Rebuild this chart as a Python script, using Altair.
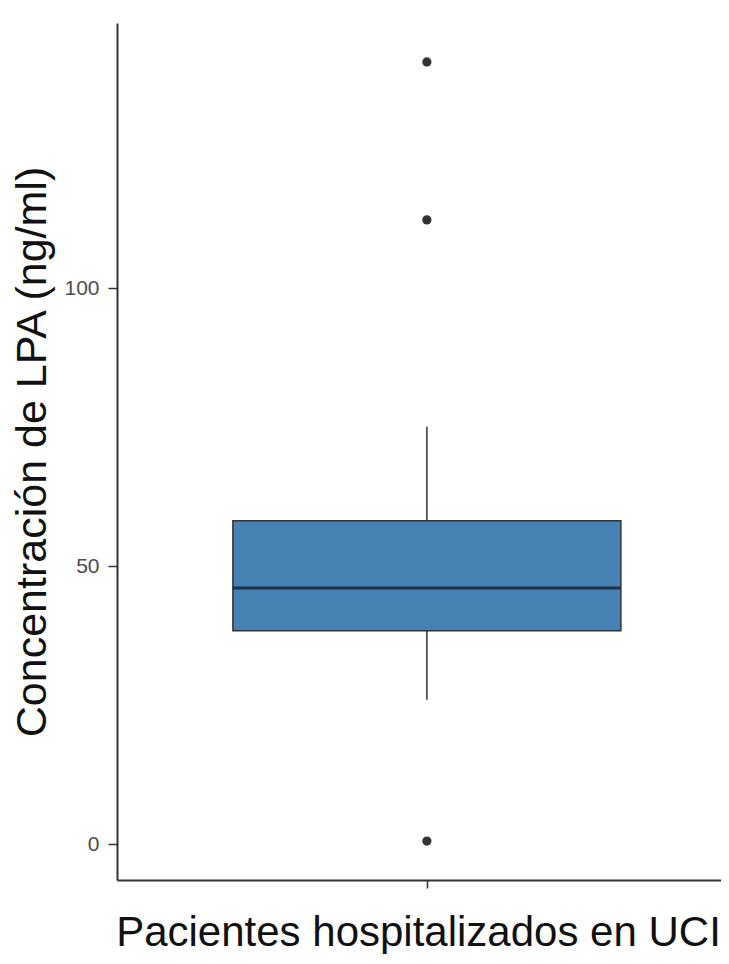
import altair as alt
import pandas as pd

# Summary values (ng/ml)
group_pos = [1]
lower_whisker = [26.0]
q1 = [38.4]
median = [46.1]
q3 = [58.2]
upper_whisker = [75.1]
outliers = [0.6, 112.3, 140.7]

box_df = pd.DataFrame({
    "pos": group_pos,
    "lo": lower_whisker,
    "q1": q1,
    "med": median,
    "q3": q3,
    "hi": upper_whisker,
})
out_df = pd.DataFrame({"pos": group_pos * len(outliers), "value": outliers})

FONT = "Liberation Sans"
W, H = 604, 857
BOXW = 388

xscale = alt.Scale(domain=[0.4, 1.569], nice=False, zero=False)
yscale = alt.Scale(domain=[-6.4, 147.7], nice=False, zero=False)

xaxis = alt.Axis(
    title="Pacientes hospitalizados en UCI",
    values=[1], labels=False, grid=False,
    tickSize=8, tickWidth=1.5, tickColor="#333333",
    domainColor="#333333", domainWidth=2,
    titleFont=FONT, titleFontSize=42, titleFontWeight="normal",
    titleColor="#111111", titleBaseline="alphabetic", titleY=65, titleX=301,
)
yaxis = alt.Axis(
    title="Concentración de LPA (ng/ml)",
    values=[0, 50, 100], grid=False,
    tickSize=9, tickWidth=1.5, tickColor="#333333",
    domainColor="#333333", domainWidth=2,
    labelFont=FONT, labelFontSize=21, labelColor="#4D4D4D", labelPadding=9,
    labelLimit=200,
    titleFont=FONT, titleFontSize=43, titleFontWeight="normal",
    titleColor="#111111", titleBaseline="alphabetic", titleX=-72, titleY=H / 2,
)

X = lambda f: alt.X(f, scale=xscale, axis=xaxis)
Y = lambda f: alt.Y(f, scale=yscale, axis=yaxis)

base = alt.Chart(box_df)

whisker = base.mark_rule(color="#333333", strokeWidth=1.5).encode(
    x=X("pos:Q"), y=Y("lo:Q"), y2="hi:Q",
)
box = base.mark_bar(size=BOXW, color="#4682B4", stroke="#333333", strokeWidth=1.5).encode(
    x=X("pos:Q"), y=Y("q1:Q"), y2="q3:Q",
)
med = base.mark_tick(orient="horizontal", size=BOXW, thickness=3, color="#1f3347", opacity=1).encode(
    x=X("pos:Q"), y=Y("med:Q"),
)
pts = alt.Chart(out_df).mark_circle(size=85, color="#333333", opacity=1).encode(
    x=X("pos:Q"), y=Y("value:Q"),
)

chart = alt.layer(whisker, box, med, pts).properties(
    width=W, height=H,
    autosize=alt.AutoSizeParams(type="none"),
    padding={"left": 109, "top": 15, "right": 0, "bottom": 74},
).configure(background="white").configure_view(stroke=None).configure_axisY(
    labelFontSize=21, labelFont=FONT, labelColor="#4D4D4D"
)

chart.save("out.html", embed_options={"renderer": "svg", "actions": False})
